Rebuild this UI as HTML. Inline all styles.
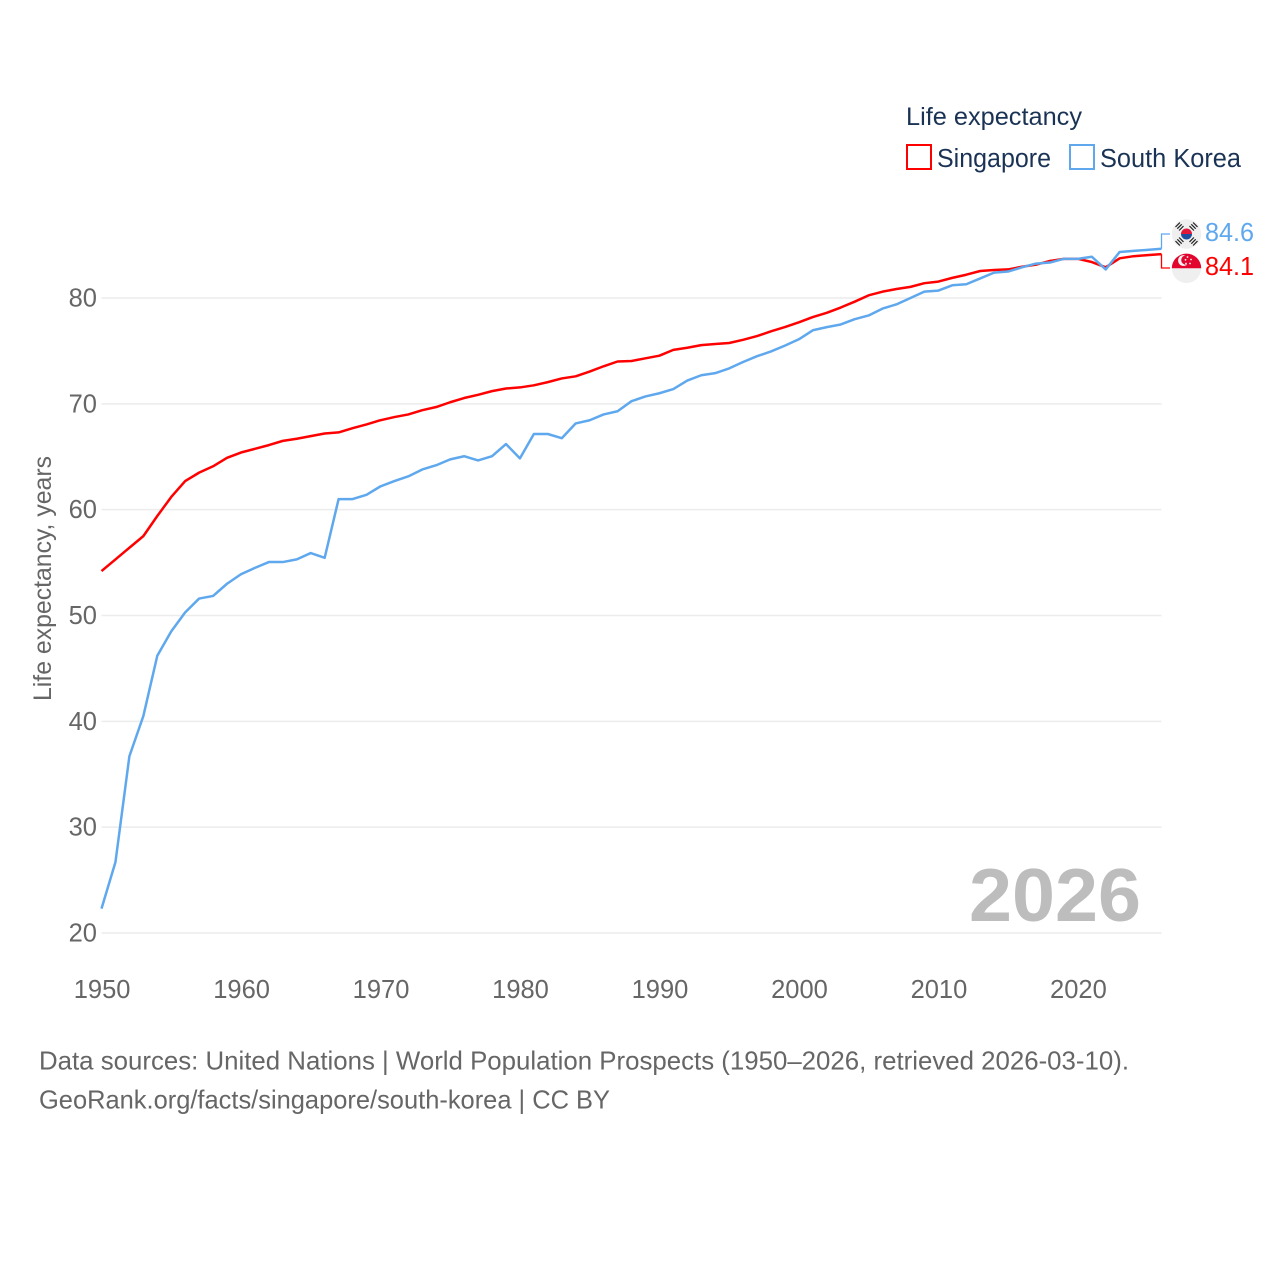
<!DOCTYPE html>
<html lang="en">
<head>
<meta charset="utf-8">
<title>Life expectancy: Singapore and South Korea</title>
<style>
html,body{margin:0;padding:0;background:#fff}
svg{display:block}
text{font-family:"Liberation Sans",sans-serif}
</style>
</head>
<body>
<svg id="chart" xmlns="http://www.w3.org/2000/svg" width="1280" height="1280" viewBox="0 0 1280 1280">
  <rect width="1280" height="1280" fill="#fff"/>
  <g id="grid"></g>
  <g id="yticks"></g>
  <g id="xticks"></g>
  <text transform="translate(51,701) rotate(-90)" font-size="25" fill="#666" textLength="245" lengthAdjust="spacingAndGlyphs">Life expectancy, years</text>
  <text x="969" y="921" font-size="75" font-weight="700" fill="#bdbdbd" textLength="172" lengthAdjust="spacingAndGlyphs">2026</text>
  <g id="series"></g>

  <text x="906" y="125" font-size="25" fill="#1a3355" textLength="176" lengthAdjust="spacingAndGlyphs">Life expectancy</text>
  <g>
    <rect x="907" y="145" width="24" height="24" fill="#fff" stroke="#ff0000" stroke-width="2"/>
    <text x="937" y="167" font-size="25.5" fill="#1a3355" textLength="114" lengthAdjust="spacingAndGlyphs">Singapore</text>
  </g>
  <g>
    <rect x="1070" y="145" width="24" height="24" fill="#fff" stroke="#5fa8ee" stroke-width="2"/>
    <text x="1100" y="167" font-size="25.5" fill="#1a3355" textLength="141" lengthAdjust="spacingAndGlyphs">South Korea</text>
  </g>

  <g>
    <circle cx="1186.5" cy="234" r="14.7" fill="#efefef"/>
    <g stroke="#222" stroke-width="1.2" fill="none">
      <path d="M1175.5 227l4.4-4.4M1177.3 228.7l4.4-4.4M1179.1 230.5l4.4-4.4"/>
      <path d="M1189.5 226.1l4.4 4.4M1191.3 224.3l4.4 4.4M1193.1 222.5l4.4 4.4"/>
      <path d="M1175.5 241.1l4.4 4.4M1177.3 239.3l4.4 4.4M1179.1 237.5l4.4 4.4"/>
      <path d="M1189.5 241.9l4.4-4.4M1191.3 243.7l4.4-4.4M1193.1 245.5l4.4-4.4"/>
    </g>
    <path d="M1181 234a5.5 5.5 0 0 1 11 0z" fill="#e2183a"/>
    <path d="M1181 234a5.5 5.5 0 0 0 11 0z" fill="#1d4f9c"/>
  </g>
  <g>
    <circle cx="1186.5" cy="268.3" r="14.7" fill="#efefef"/>
    <path d="M1171.8 268.3a14.7 14.7 0 0 1 29.4 0z" fill="#e2052e"/>
    <circle cx="1183.5" cy="260.5" r="5.4" fill="#f4f4f4"/>
    <circle cx="1185.8" cy="260" r="4.6" fill="#e2052e"/>
    <g fill="#f4f4f4">
      <circle cx="1187.5" cy="257" r="0.9"/>
      <circle cx="1191" cy="259.5" r="0.9"/>
      <circle cx="1190" cy="263.5" r="0.9"/>
      <circle cx="1186" cy="263.5" r="0.9"/>
      <circle cx="1185.5" cy="259.8" r="0.9"/>
    </g>
  </g>
  <text x="1205" y="241" font-size="26" fill="#5fa8ee" textLength="49" lengthAdjust="spacingAndGlyphs">84.6</text>
  <text x="1205" y="275" font-size="26" fill="#ff0000" textLength="49" lengthAdjust="spacingAndGlyphs">84.1</text>

  <text x="39" y="1069.5" font-size="26" fill="#666" textLength="1090" lengthAdjust="spacingAndGlyphs">Data sources: United Nations | World Population Prospects (1950–2026, retrieved 2026-03-10).</text>
  <text x="39" y="1108.5" font-size="26" fill="#666" textLength="571" lengthAdjust="spacingAndGlyphs">GeoRank.org/facts/singapore/south-korea | CC BY</text>
</svg>
<script>
const years = [1950,1951,1952,1953,1954,1955,1956,1957,1958,1959,1960,1961,1962,1963,1964,1965,1966,1967,1968,1969,1970,1971,1972,1973,1974,1975,1976,1977,1978,1979,1980,1981,1982,1983,1984,1985,1986,1987,1988,1989,1990,1991,1992,1993,1994,1995,1996,1997,1998,1999,2000,2001,2002,2003,2004,2005,2006,2007,2008,2009,2010,2011,2012,2013,2014,2015,2016,2017,2018,2019,2020,2021,2022,2023,2024,2025,2026];
const singapore = [54.2,55.3,56.4,57.5,59.4,61.2,62.7,63.5,64.1,64.9,65.4,65.75,66.1,66.5,66.7,66.95,67.2,67.3,67.7,68.05,68.45,68.75,69,69.4,69.7,70.15,70.55,70.85,71.2,71.45,71.55,71.75,72.05,72.4,72.6,73.05,73.55,74,74.05,74.3,74.55,75.1,75.3,75.55,75.65,75.75,76.05,76.4,76.85,77.25,77.7,78.2,78.6,79.1,79.65,80.25,80.6,80.85,81.05,81.4,81.55,81.9,82.2,82.55,82.65,82.7,82.95,83.15,83.5,83.7,83.7,83.4,82.9,83.75,83.95,84.05,84.15];
const southKorea = [22.3,26.7,36.7,40.5,46.2,48.5,50.3,51.6,51.85,53,53.9,54.5,55.05,55.05,55.3,55.9,55.45,61,61,61.4,62.2,62.7,63.15,63.8,64.2,64.75,65.05,64.65,65.05,66.2,64.85,67.15,67.15,66.75,68.15,68.45,69,69.3,70.25,70.7,71,71.4,72.2,72.7,72.9,73.35,73.95,74.5,74.95,75.5,76.1,76.95,77.25,77.5,78,78.35,79,79.4,80,80.6,80.7,81.2,81.3,81.85,82.4,82.5,82.9,83.25,83.35,83.7,83.7,83.9,82.7,84.35,84.45,84.55,84.65];
const yTickValues = [20,30,40,50,60,70,80];
const xTickValues = [1950,1960,1970,1980,1990,2000,2010,2020];

const NS = 'http://www.w3.org/2000/svg';
const xMin = years[0], xMax = years[years.length - 1];
function xScale(v){ return 101.5 + (v - xMin) * (1161.5 - 101.5) / (xMax - xMin); }
function yScale(v){ return 933 - (v - 20) * (933 - 298) / 60; }

const gridG = document.getElementById('grid');
const yG = document.getElementById('yticks');
const xG = document.getElementById('xticks');
const seriesG = document.getElementById('series');

yTickValues.forEach(function(v){
  const line = document.createElementNS(NS, 'line');
  
  
  line.setAttribute('x1', xScale(xMin));
  line.setAttribute('x2', xScale(xMax));
  line.setAttribute('y1', yScale(v));
  line.setAttribute('y2', yScale(v));
  line.setAttribute('stroke', '#ececec');
  line.setAttribute('stroke-width', '1.5');
  gridG.appendChild(line);

  const t = document.createElementNS(NS, 'text');
  
  
  t.setAttribute('x', 97);
  t.setAttribute('y', yScale(v) + 8.5);
  t.setAttribute('text-anchor', 'end');
  t.setAttribute('font-size', '25.5');
  t.setAttribute('fill', '#666');
  t.textContent = v;
  yG.appendChild(t);
});

xTickValues.forEach(function(v){
  const t = document.createElementNS(NS, 'text');
  
  
  t.setAttribute('x', xScale(v) + 0.6);
  t.setAttribute('y', 998);
  t.setAttribute('text-anchor', 'middle');
  t.setAttribute('font-size', '25.5');
  t.setAttribute('fill', '#666');
  t.textContent = v;
  xG.appendChild(t);
});

function pathFrom(values){
  return values.map(function(v, i){
    return (i ? 'L' : 'M') + xScale(years[i]).toFixed(2) + ' ' + yScale(v).toFixed(2);
  }).join('');
}

const redLine = document.createElementNS(NS, 'path');


redLine.setAttribute('d', pathFrom(singapore));
redLine.setAttribute('fill', 'none');
redLine.setAttribute('stroke', '#ff0000');
redLine.setAttribute('stroke-width', '2.5');
redLine.setAttribute('stroke-linejoin', 'round');
seriesG.appendChild(redLine);

const blueLine = document.createElementNS(NS, 'path');


blueLine.setAttribute('d', pathFrom(southKorea));
blueLine.setAttribute('fill', 'none');
blueLine.setAttribute('stroke', '#5fa8ee');
blueLine.setAttribute('stroke-width', '2.5');
blueLine.setAttribute('stroke-linejoin', 'round');
seriesG.appendChild(blueLine);

const lastX = xScale(xMax);
const redLeader = document.createElementNS(NS, 'path');


redLeader.setAttribute('d', 'M' + lastX + ' ' + yScale(singapore[singapore.length - 1]) + 'V268H1170');
redLeader.setAttribute('fill', 'none');
redLeader.setAttribute('stroke', '#ff0000');
redLeader.setAttribute('stroke-width', '1.3');
seriesG.appendChild(redLeader);

const blueLeader = document.createElementNS(NS, 'path');


blueLeader.setAttribute('d', 'M' + lastX + ' ' + yScale(southKorea[southKorea.length - 1]) + 'V234H1170');
blueLeader.setAttribute('fill', 'none');
blueLeader.setAttribute('stroke', '#5fa8ee');
blueLeader.setAttribute('stroke-width', '1.3');
seriesG.appendChild(blueLeader);
</script>
</body>
</html>
